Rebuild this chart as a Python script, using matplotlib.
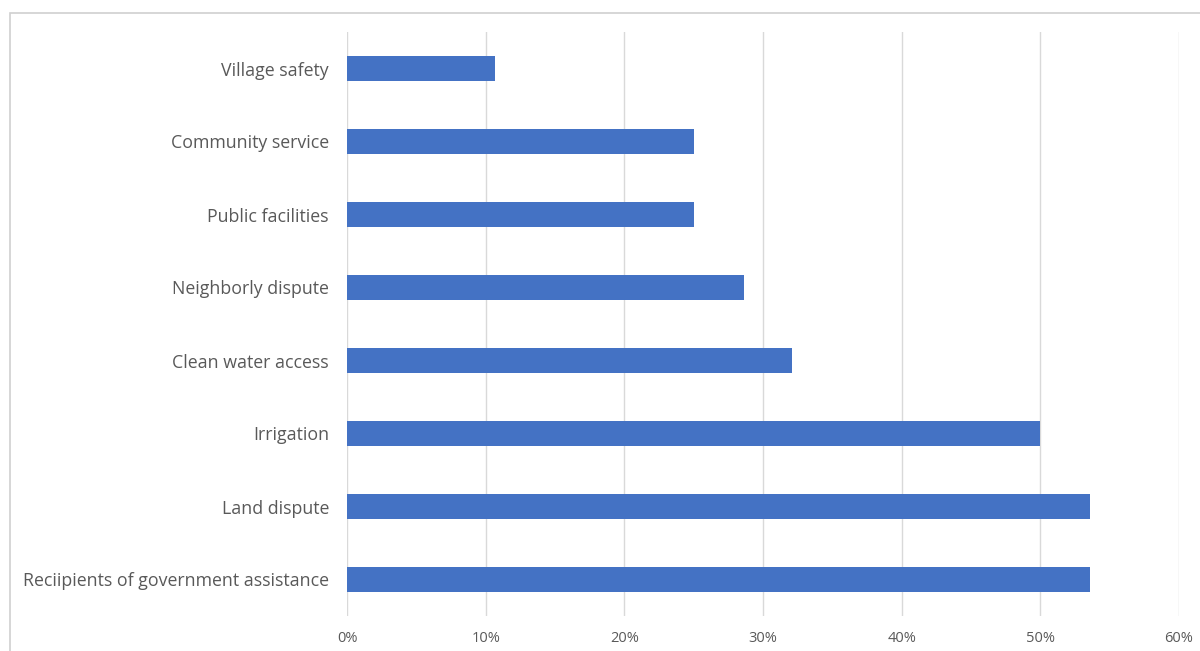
import matplotlib.pyplot as plt
from matplotlib.patches import Rectangle
from matplotlib.ticker import PercentFormatter

categories = ["Reciipients of government assistance", "Land dispute", "Irrigation",
              "Clean water access", "Neighborly dispute", "Public facilities",
              "Community service", "Village safety"]
shares = [53.6, 53.6, 50.0, 32.1, 28.6, 25.0, 25.0, 10.7]
x_ticks = [0, 10, 20, 30, 40, 50, 60]

plt.rcParams['font.family'] = ['Open Sans', 'DejaVu Sans']
text_color = '#595959'

fig = plt.figure(figsize=(12, 6.51), dpi=100)
# chart area frame
fig.patches.append(Rectangle((10 / 1200, -0.05), 1.1, (651 - 13) / 651 + 0.05,
                             transform=fig.transFigure, fill=False,
                             edgecolor='#d0d0d0', linewidth=1.2))

ax = fig.add_axes([347 / 1200, 1 - 616 / 651, (1179 - 347) / 1200, (616 - 32) / 651])
ax.barh(range(len(categories)), shares, height=0.355, color='#4472C4', zorder=3)

ax.set_xlim(0, 60)
ax.set_ylim(-0.5, len(categories) - 0.5)
ax.set_xticks(x_ticks)
ax.xaxis.set_major_formatter(PercentFormatter(decimals=0))
ax.set_yticks(range(len(categories)))
ax.set_yticklabels(categories)
ax.grid(axis='x', color='#d9d9d9', linewidth=1, zorder=0)
for s in ax.spines.values():
    s.set_visible(False)
ax.tick_params(axis='both', length=0, colors=text_color)
ax.tick_params(axis='y', labelsize=12.8, pad=13)
ax.tick_params(axis='x', labelsize=10.5, pad=11)

fig.savefig('out.png', dpi=100)
